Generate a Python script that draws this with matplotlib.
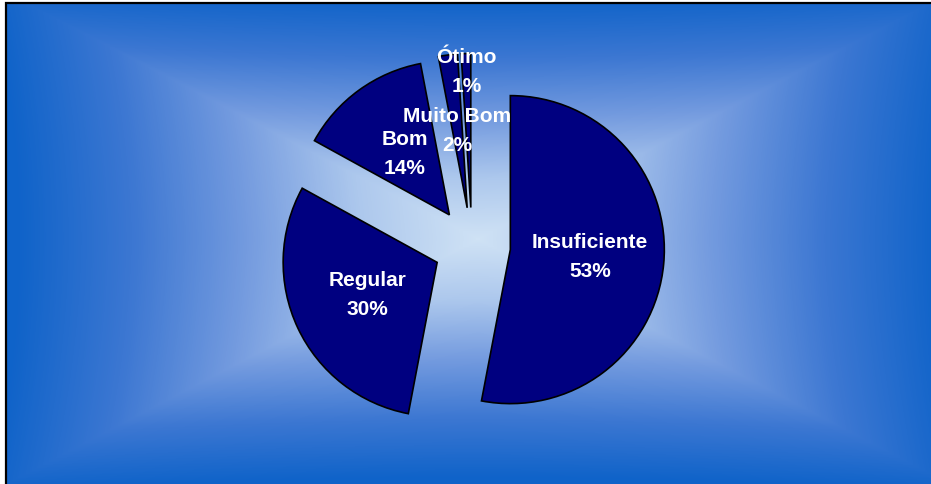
import numpy as np
import matplotlib.pyplot as plt
from matplotlib.colors import LinearSegmentedColormap
from matplotlib.patches import Rectangle

categorias = ["Insuficiente", "Regular", "Bom", "Muito Bom", "Ótimo"]
percentuais = [53, 30, 14, 2, 1]
distancia_rotulo = [0.52, 0.50, 0.49, 0.50, 0.88]

AZUL_PIZZA = "#000080"
W, H = 931, 484
RAIO_PX = 154.0
CENTRO_PX = (472.0, 246.0)  # x, y a partir do topo

plt.rcParams["font.family"] = ["Liberation Sans", "DejaVu Sans"]

fig = plt.figure(figsize=(W / 100, H / 100), dpi=100)
fig.patch.set_facecolor("white")

# fundo com gradiente retangular (claro no centro, azul nas bordas)
x0 = 7 / W
bg = fig.add_axes([x0, 0, 1 - x0, 1 - 3 / H])
nx, ny = 924, 481
gx = np.linspace(-1, 1, nx)
gy = np.linspace(-1, 1, ny)
u, v = np.meshgrid(np.abs(gx - 0.02), np.abs(gy + 0.02))
t = np.clip(np.maximum(u, v) - 0.06 * np.minimum(u, v) * (1 - np.abs(u - v)), 0, 1)
cmap = LinearSegmentedColormap.from_list(
    "fundo", ["#cfe2f5", "#adc8ed", "#749bdf", "#3c77d2", "#0f63c9"]
)
bg.imshow(t, cmap=cmap, vmin=0, vmax=1, aspect="auto", interpolation="bilinear")
bg.set_axis_off()

fig.add_artist(
    Rectangle((5.5 / W, -0.1), 1.2, 1.1 - 2.5 / H, transform=fig.transFigure,
              fill=False, edgecolor="black", linewidth=1.6)
)

ax = fig.add_axes([0, 0, 1, 1])
ax.patch.set_alpha(0)
wedges, _ = ax.pie(
    percentuais,
    startangle=90,
    counterclock=False,
    explode=[0.25] * len(percentuais),
    colors=[AZUL_PIZZA] * len(percentuais),
    wedgeprops=dict(edgecolor="black", linewidth=1.2),
)
ax.set_aspect("auto")
ax.set_xlim(-CENTRO_PX[0] / RAIO_PX, (W - CENTRO_PX[0]) / RAIO_PX)
ax.set_ylim(-(H - CENTRO_PX[1]) / RAIO_PX, CENTRO_PX[1] / RAIO_PX)
ax.set_axis_off()

estilo = dict(ha="center", va="center", color="white", fontsize=15,
              fontweight="bold", textcoords="offset points")
for w, nome, pct, d in zip(wedges, categorias, percentuais, distancia_rotulo):
    ang = np.deg2rad((w.theta1 + w.theta2) / 2)
    cx, cy = w.center
    pos = (cx + d * np.cos(ang), cy + d * np.sin(ang))
    ax.annotate(nome, pos, xytext=(0, 10.5), **estilo)
    ax.annotate(f"{pct}%", pos, xytext=(0, -10.5), **estilo)

fig.savefig("out.png", dpi=100)
